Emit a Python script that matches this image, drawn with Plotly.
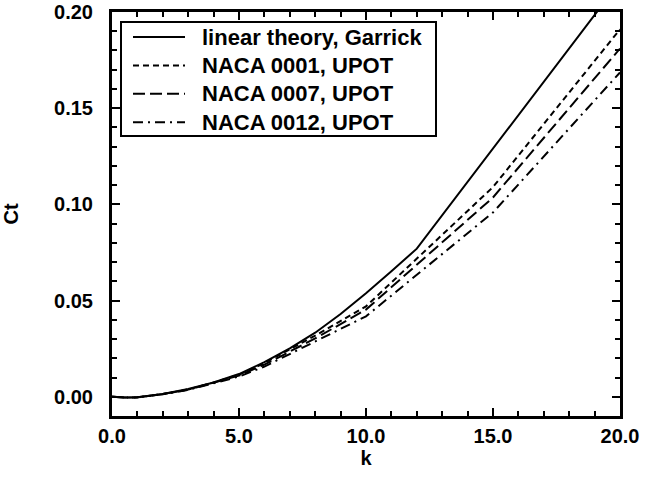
import plotly.graph_objects as go

# Garrick linear theory
k_garrick = [0, 0.5, 1, 2, 3, 4, 5, 6, 7, 8, 9, 10, 11, 12, 20]
ct_garrick = [0.0, -0.0004, -0.0003, 0.0014, 0.0040, 0.0074, 0.0118, 0.0180,
              0.0252, 0.0333, 0.0430, 0.0538, 0.0652, 0.0770, 0.2158]

# UPOT results
k_upot = [0, 0.5, 1, 2, 3, 4, 5, 6, 8, 10, 15, 20]
ct_0001 = [0.0, -0.0004, -0.0003, 0.0014, 0.0038, 0.0074, 0.0115, 0.0175, 0.0318, 0.0470, 0.1090, 0.1910]
ct_0007 = [0.0, -0.0004, -0.0003, 0.0014, 0.0037, 0.0072, 0.0110, 0.0167, 0.0303, 0.0453, 0.1036, 0.1810]
ct_0012 = [0.0, -0.0004, -0.0003, 0.0013, 0.0036, 0.0070, 0.0105, 0.0157, 0.0286, 0.0418, 0.0958, 0.1686]

names = ["linear theory, Garrick", "NACA 0001, UPOT", "NACA 0007, UPOT", "NACA 0012, UPOT"]
dashes = ["solid", "6px,4px", "12px,5px", "10px,5px,2px,5px"]

x_ticks = [0, 5, 10, 15, 20]
x_ticklabels = ["0.0", "5.0", "10.0", "15.0", "20.0"]
y_ticks = [0.0, 0.05, 0.10, 0.15, 0.20]
y_ticklabels = ["0.00", "0.05", "0.10", "0.15", "0.20"]

FONT = "Liberation Sans, Arial, Helvetica, sans-serif"

fig = go.Figure()
series = [(k_garrick, ct_garrick), (k_upot, ct_0001), (k_upot, ct_0007), (k_upot, ct_0012)]
for (xs, ys), nm, ds in zip(series, names, dashes):
    fig.add_trace(go.Scatter(x=xs, y=ys, mode="lines", name=nm, showlegend=False,
                             line=dict(color="black", width=2, dash=ds)))

axis_common = dict(
    showline=True, linecolor="black", linewidth=3, mirror="ticks",
    ticks="inside", ticklen=8, tickwidth=2, tickcolor="black",
    showgrid=False, zeroline=False, automargin=False,
    tickfont=dict(family=FONT, size=20, color="black", weight="bold"),
)

fig.update_xaxes(range=[0, 20], tickvals=x_ticks, ticktext=x_ticklabels,
                 minor=dict(dtick=1, ticks="inside", ticklen=5, tickwidth=2, tickcolor="black"),
                 title=dict(text="k", font=dict(family=FONT, size=20, color="black", weight="bold"), standoff=0),
                 ticklabelstandoff=0,
                 **axis_common)
fig.update_yaxes(range=[-0.01, 0.20], tickvals=y_ticks, ticktext=y_ticklabels,
                 minor=dict(dtick=0.01, tick0=0, ticks="inside", ticklen=5, tickwidth=2, tickcolor="black"),
                 title=dict(text="Ct", font=dict(family=FONT, size=20, color="black", weight="bold"), standoff=37),
                 ticklabelstandoff=12,
                 **axis_common)

# Legend drawn in paper coordinates (plot area: 508 x 404 px)
PW, PH = 508.0, 404.0
def px_x(p):
    return p / PW
def px_y(p):
    return 1 - p / PH

shapes = [dict(type="rect", xref="paper", yref="paper",
               x0=px_x(9), x1=px_x(324), y0=px_y(124), y1=px_y(10),
               line=dict(color="black", width=2), fillcolor="white", layer="above")]
annotations = []
for i, (nm, ds) in enumerate(zip(names, dashes)):
    yc = px_y(25 + 28.4 * i)
    shapes.append(dict(type="line", xref="paper", yref="paper",
                       x0=px_x(21), x1=px_x(73), y0=yc, y1=yc,
                       line=dict(color="black", width=2, dash=ds), layer="above"))
    annotations.append(dict(text=nm, xref="paper", yref="paper", x=px_x(88), y=yc,
                            xanchor="left", yanchor="middle", showarrow=False,
                            font=dict(family=FONT, size=22, color="black", weight="bold")))

fig.update_layout(
    width=656, height=478,
    margin=dict(l=112, r=36, t=12, b=62),
    paper_bgcolor="white", plot_bgcolor="white",
    showlegend=False,
    shapes=shapes, annotations=annotations,
)

fig.write_html("out.html")
